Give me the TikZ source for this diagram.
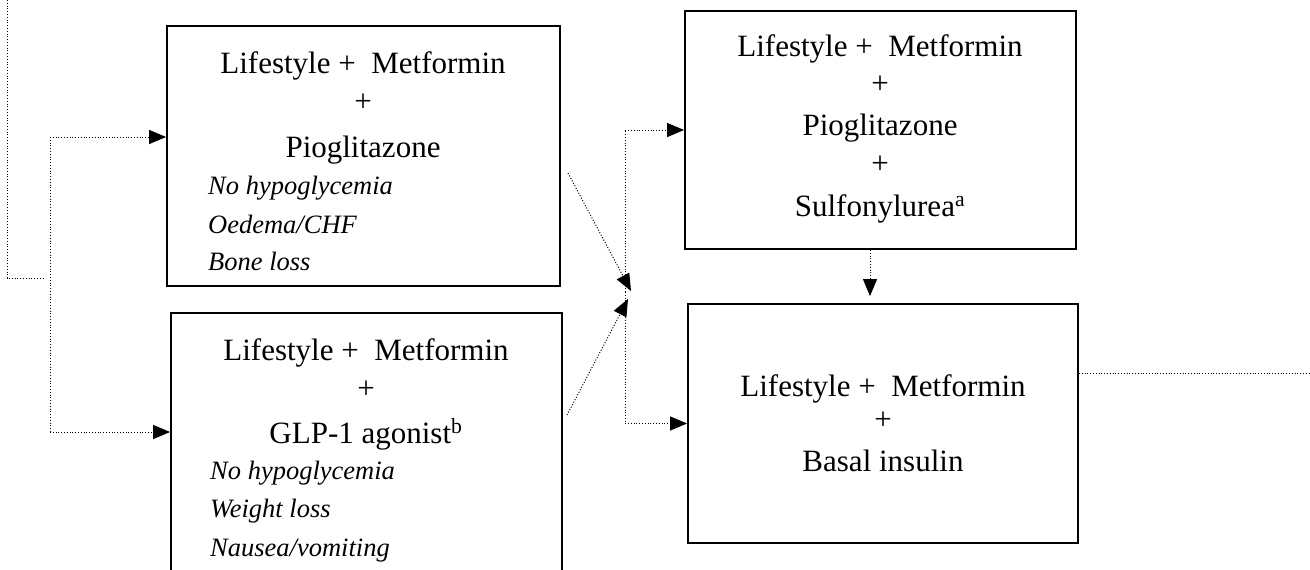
\documentclass[tikz,border=0pt]{standalone}
\usepackage{fontspec}
\setmainfont{Liberation Serif}
\usetikzlibrary{arrows.meta}
\begin{document}
\begin{tikzpicture}[x=1pt,y=-1pt,
  box/.style={draw, line width=1.8pt, inner sep=0pt},
  main/.style={font=\fontsize{31}{36}\selectfont, inner sep=0pt, anchor=base},
  note/.style={font=\fontsize{26.5}{30}\selectfont\itshape, inner sep=0pt, anchor=base west},
  plus/.style={font=\fontsize{31}{36}\selectfont, inner sep=0pt},
  conn/.style={line width=1pt, dash pattern=on 1pt off 1.8pt},
  arr/.style={conn, -{Triangle[length=17pt,width=14pt]}}]
\clip (0,0) rectangle (1310,570);
% boxes
\node[box, minimum width=393pt, minimum height=260pt] (b1) at (363.5,156) {};
\node[box, minimum width=391pt, minimum height=277pt] (b2) at (366.5,451.5) {};
\node[box, minimum width=391pt, minimum height=238pt] (b3) at (880.5,130) {};
\node[box, minimum width=390pt, minimum height=239pt] (b4) at (883,423.5) {};
% box 1 text
\node[main] (b1l1) at (363,73) {Lifestyle + \ Metformin};
\node[plus] (b1p1) at (363,103) {+};
\node[main] (b1l2) at (363,157) {Pioglitazone};
\node[note] (b1n1) at (208,194) {No hypoglycemia};
\node[note] (b1n2) at (208,233) {Oedema/CHF};
\node[note] (b1n3) at (208,270) {Bone loss};
% box 2 text
\node[main] (b2l1) at (366,360) {Lifestyle + \ Metformin};
\node[plus] (b2p1) at (366,390) {+};
\node[main] (b2l2) at (366,443) {GLP-1 agonist\textsuperscript{b}};
\node[note] (b2n1) at (210,479) {No hypoglycemia};
\node[note] (b2n2) at (210,517) {Weight loss};
\node[note] (b2n3) at (210,556) {Nausea/vomiting};
% box 3 text
\node[main] (b3l1) at (880,56) {Lifestyle + \ Metformin};
\node[plus] (b3p1) at (880,85) {+};
\node[main] (b3l2) at (880,135) {Pioglitazone};
\node[plus] (b3p2) at (880,165) {+};
\node[main] (b3l3) at (880,216) {Sulfonylurea\textsuperscript{a}};
% box 4 text
\node[main] (b4l1) at (883,396) {Lifestyle + \ Metformin};
\node[plus] (b4p1) at (883,421) {+};
\node[main] (b4l2) at (883,471) {Basal insulin};
% left connectors
\coordinate (o1) at (7,0);
\coordinate (o2) at (7,278);
\coordinate (o3) at (45,278);
\draw[conn] (o1) -- (o2) -- (o3);
\coordinate (s1) at (50,137);
\coordinate (s2) at (50,432);
\draw[conn] (s1) -- (s2);
\draw[arr] (s1) -- (s1 -| b1.west);
\draw[arr] (s2) -- (s2 -| b2.west);
% middle connectors
\coordinate (d1) at (568,173);
\coordinate (d2) at (567,415);
\coordinate (J1) at (631,291);
\coordinate (J2) at (628,299);
\draw[arr] (d1) -- (J1);
\draw[arr] (d2) -- (J2);
\coordinate (v) at (625,292);
\draw[arr] (v) |- (b3.west);
\draw[arr] (v) |- (b4.west);
\coordinate (m) at (870,0);
\draw[arr, shorten >=7pt] (b3.south -| m) -- (b4.north -| m);
% right connector
\coordinate (r) at (1310,373);
\draw[conn] (b4.east |- r) -- (r);
\end{tikzpicture}
\end{document}
